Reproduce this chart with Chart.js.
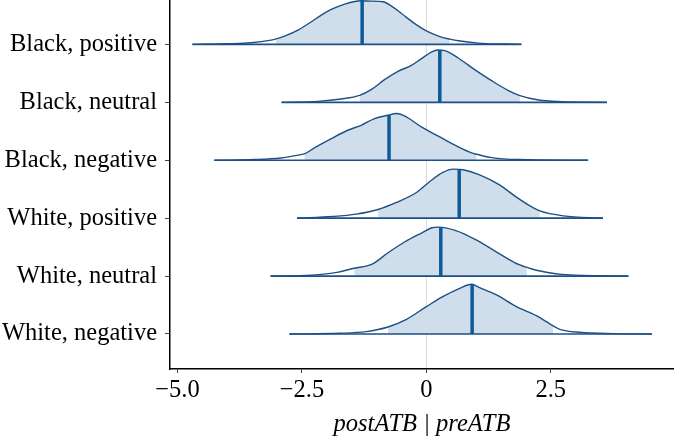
<!DOCTYPE html>
<html>
<head>
<meta charset="utf-8">
<script src="https://cdn.jsdelivr.net/npm/chart.js@4.4.0/dist/chart.umd.min.js"></script>
<style>
  html, body { margin: 0; padding: 0; background: #fff; }
</style>
</head>
<body>
<canvas id="chart" width="674" height="438"></canvas>
<script>
// rows, top to bottom
const categories = ['Black, positive', 'Black, neutral', 'Black, negative',
                    'White, positive', 'White, neutral', 'White, negative'];
const baselines = [6, 5, 4, 3, 2, 1];

// density curves (x value, height in row units)
const blackPosX = [-4.70, -3.99, -3.52, -3.12, -3.02, -2.85, -2.58, -2.31, -2.11, -1.91, -1.64, -1.44, -1.31, -1.11, -0.87, -0.70, -0.50, -0.24, 0.03, 0.30, 0.47, 0.64, 1.04, 1.58, 1.91];
const blackPosH = [0, 0.012, 0.029, 0.075, 0.095, 0.144, 0.248, 0.392, 0.507, 0.605, 0.696, 0.742, 0.754, 0.748, 0.737, 0.662, 0.535, 0.363, 0.219, 0.127, 0.092, 0.063, 0.023, 0.006, 0];

const blackNeuX = [-2.91, -2.18, -1.71, -1.34, -1.11, -0.84, -0.57, -0.30, -0.10, 0.10, 0.23, 0.37, 0.64, 0.97, 1.31, 1.64, 1.88, 2.25, 2.72, 3.63];
const blackNeuH = [0, 0.017, 0.058, 0.12, 0.219, 0.391, 0.535, 0.639, 0.754, 0.869, 0.904, 0.892, 0.766, 0.564, 0.374, 0.207, 0.115, 0.040, 0.012, 0];

const blackNegX = [-4.26, -3.45, -2.92, -2.52, -2.45, -2.25, -1.91, -1.58, -1.31, -1.04, -0.77, -0.60, -0.44, -0.10, 0.23, 0.64, 0.91, 1.01, 1.31, 1.84, 3.25];
const blackNegH = [0, 0.012, 0.040, 0.098, 0.109, 0.213, 0.374, 0.518, 0.604, 0.720, 0.777, 0.806, 0.766, 0.576, 0.420, 0.230, 0.127, 0.104, 0.046, 0.012, 0];

const whitePosX = [-2.60, -1.88, -1.41, -0.97, -0.60, -0.20, 0.07, 0.33, 0.54, 0.74, 1.07, 1.47, 1.81, 2.08, 2.28, 2.75, 3.55];
const whitePosH = [0, 0.029, 0.069, 0.15, 0.271, 0.443, 0.633, 0.789, 0.846, 0.835, 0.748, 0.576, 0.363, 0.213, 0.125, 0.040, 0];

const whiteNeuX = [-3.13, -2.31, -1.77, -1.45, -1.10, -0.77, -0.43, -0.09, 0.11, 0.24, 0.58, 0.98, 1.38, 1.78, 2.02, 2.19, 2.72, 4.06];
const whiteNeuH = [0, 0.017, 0.069, 0.135, 0.201, 0.403, 0.593, 0.748, 0.835, 0.846, 0.789, 0.633, 0.432, 0.230, 0.15, 0.104, 0.029, 0];

const whiteNegX = [-2.75, -1.74, -1.21, -0.77, -0.40, 0.00, 0.33, 0.67, 0.91, 1.07, 1.41, 1.81, 2.21, 2.41, 2.55, 2.68, 3.08, 3.75, 4.53];
const whiteNegH = [0, 0.012, 0.040, 0.12, 0.253, 0.472, 0.645, 0.789, 0.858, 0.800, 0.674, 0.472, 0.317, 0.213, 0.14, 0.081, 0.029, 0.006, 0];

// medians and shaded intervals, same row order
const medians = [-1.29, 0.27, -0.75, 0.66, 0.29, 0.92];
const medianH = [0.754, 0.90, 0.78, 0.845, 0.845, 0.857];
const intervalLo = [-3.02, -1.34, -2.45, -0.97, -1.45, -0.77];
const intervalHi = [0.47, 1.88, 1.01, 2.28, 2.02, 2.55];

const xTickValues = [-5, -2.5, 0, 2.5];
const xTickLabels = ['\u22125.0', '\u22122.5', '0', '2.5'];

const curveX = [blackPosX, blackNeuX, blackNegX, whitePosX, whiteNeuX, whiteNegX];
const curveH = [blackPosH, blackNeuH, blackNegH, whitePosH, whiteNeuH, whiteNegH];

const lineColor = '#1d4f86';
const medianColor = '#0d5a99';
const fillColor = '#cfdeea';

const datasets = [];
categories.forEach((cat, i) => {
    const base = baselines[i];
    const pts = curveX[i].map((x, j) => ({ x: x, y: base + curveH[i][j] }));
    const shade = pts.filter(p => p.x >= intervalLo[i] && p.x <= intervalHi[i]);
    const xs = curveX[i];

    datasets.push({
        label: cat + ' interval',
        data: shade,
        borderWidth: 0,
        pointRadius: 0,
        backgroundColor: fillColor,
        fill: { value: base },
        cubicInterpolationMode: 'monotone',
        order: 4
    });
    datasets.push({
        label: cat,
        data: pts,
        borderColor: lineColor,
        borderWidth: 1.4,
        pointRadius: 0,
        fill: false,
        cubicInterpolationMode: 'monotone',
        order: 3
    });
    datasets.push({
        label: cat + ' base',
        data: [{ x: xs[0], y: base }, { x: xs[xs.length - 1], y: base }],
        borderColor: lineColor,
        borderWidth: 1.6,
        pointRadius: 0,
        fill: false,
        order: 2
    });
    datasets.push({
        label: cat + ' median',
        data: [{ x: medians[i], y: base }, { x: medians[i], y: base + medianH[i] }],
        borderColor: medianColor,
        borderWidth: 3.5,
        pointRadius: 0,
        fill: false,
        order: 1
    });
});

const serif = 'Liberation Serif';

new Chart(document.getElementById('chart').getContext('2d'), {
    type: 'line',
    data: { datasets: datasets },
    options: {
        responsive: false,
        animation: false,
        layout: { padding: 0 },
        plugins: {
            legend: { display: false },
            tooltip: { enabled: false }
        },
        scales: {
            x: {
                type: 'linear',
                min: -5.151,
                max: 4.976,
                afterBuildTicks: (scale) => {
                    scale.ticks = xTickValues.map(v => ({ value: v }));
                },
                afterFit: (scale) => {
                    scale.height = 69;
                    scale.paddingLeft = 0;
                    scale.paddingRight = 0;
                },
                ticks: {
                    padding: 3,
                    color: '#000',
                    font: { family: serif, size: 24.5 },
                    callback: (value) => {
                        const k = xTickValues.indexOf(value);
                        return k >= 0 ? xTickLabels[k] : '';
                    }
                },
                grid: {
                    color: (ctx) => (ctx.tick && ctx.tick.value === 0) ? '#dcdcdc' : 'rgba(0,0,0,0)',
                    tickColor: '#444',
                    tickLength: 4
                },
                border: { display: true, color: '#000', width: 1.5 },
                title: {
                    display: true,
                    text: 'postATB | preATB',
                    color: '#000',
                    font: { family: serif, size: 24.5, style: 'italic' },
                    padding: { top: 0, bottom: -1 }
                }
            },
            y: {
                type: 'linear',
                min: 0.3955,
                max: 6.767,
                afterBuildTicks: (scale) => {
                    scale.ticks = baselines.map(v => ({ value: v }));
                },
                afterFit: (scale) => {
                    scale.width = 170;
                    scale.paddingTop = 0;
                    scale.paddingBottom = 0;
                },
                ticks: {
                    padding: 8,
                    color: '#000',
                    font: { family: serif, size: 24.5 },
                    callback: (value) => {
                        const k = baselines.indexOf(value);
                        return k >= 0 ? categories[k] : '';
                    }
                },
                grid: {
                    color: 'rgba(0,0,0,0)',
                    tickColor: '#444',
                    tickLength: 5
                },
                border: { display: true, color: '#000', width: 1.5 }
            }
        }
    }
});
</script>
</body>
</html>
